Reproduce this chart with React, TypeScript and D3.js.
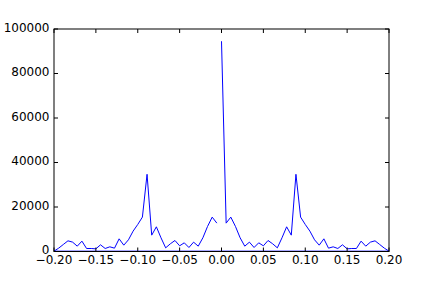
import React from "react";
import * as d3 from "d3";

// Frequency step and magnitudes (positive side, k = 0..36); negative side mirrors it
const freqStep = 1 / 180;
const positiveMagnitudes = [
  94500, 12750, 15450, 11260, 6170, 2400, 4200, 1800, 3900, 2550,
  4950, 3450, 1650, 6150, 11100, 7350, 34700, 15450, 12150, 9150,
  5250, 2850, 5700, 1500, 2100, 1350, 3000, 1200, 1350, 1350,
  4650, 2400, 4200, 4800, 3150, 1500, 150,
];
const xTicks = [-0.2, -0.15, -0.1, -0.05, 0, 0.05, 0.1, 0.15, 0.2];
const yTicks = [0, 20000, 40000, 60000, 80000, 100000];

const W = 432;
const H = 288;
const left = 54;
const right = 389;
const top = 29;
const bottom = 251.5;

export default function App() {
  const x = d3.scaleLinear().domain([-0.2, 0.2]).range([left, right]);
  const y = d3.scaleLinear().domain([0, 100000]).range([bottom, top]);

  // fftfreq order: 0, positives..., then negatives from most negative to -step
  const n = positiveMagnitudes.length;
  const pts: [number, number][] = [];
  for (let k = 0; k < n; k++) pts.push([k * freqStep, positiveMagnitudes[k]]);
  for (let k = n - 1; k >= 1; k--) pts.push([-k * freqStep, positiveMagnitudes[k]]);

  const line = d3
    .line<[number, number]>()
    .x((d) => x(d[0]))
    .y((d) => y(d[1]));

  const fmtX = (v: number) => {
    const s = Math.abs(v).toFixed(2);
    return v < -1e-9 ? "\u2212" + s : s;
  };

  return (
    <svg
      width={W}
      height={H}
      style={{ position: "absolute", left: 0, top: 0, background: "#fff" }}
      fontFamily="DejaVu Sans"
      fontSize={12}
    >
      <rect x={0} y={0} width={W} height={H} fill="#fff" />
      <defs>
        <clipPath id="clip">
          <rect x={left} y={top} width={right - left} height={bottom - top} />
        </clipPath>
      </defs>
      <path
        d={line(pts) || ""}
        fill="none"
        stroke="#0000ff"
        strokeWidth={1}
        clipPath="url(#clip)"
      />
      {xTicks.map((t) => (
        <g key={"x" + t}>
          <line x1={x(t)} x2={x(t)} y1={bottom} y2={bottom - 4} stroke="#000" />
          <line x1={x(t)} x2={x(t)} y1={top} y2={top + 4} stroke="#000" />
          <text x={x(t)} y={bottom + 12.5} textAnchor="middle" fill="#000">
            {fmtX(t)}
          </text>
        </g>
      ))}
      {yTicks.map((t) => (
        <g key={"y" + t}>
          <line x1={left} x2={left + 4} y1={y(t)} y2={y(t)} stroke="#000" />
          <line x1={right} x2={right - 4} y1={y(t)} y2={y(t)} stroke="#000" />
          <text x={left - 4.5} y={y(t) + 2.5} textAnchor="end" fill="#000">
            {String(t)}
          </text>
        </g>
      ))}
      <rect
        x={left}
        y={top}
        width={right - left}
        height={bottom - top}
        fill="none"
        stroke="#000"
        strokeWidth={1}
      />
    </svg>
  );
}
